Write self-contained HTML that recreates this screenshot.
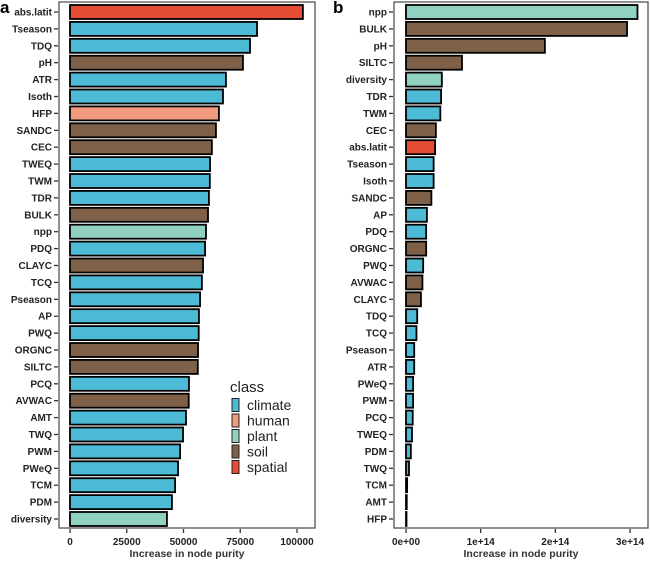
<!DOCTYPE html>
<html><head><meta charset="utf-8"><style>
body{margin:0;background:#fff;}
svg{display:block;font-family:"Liberation Sans",Arial,sans-serif;}
</style></head><body>
<svg id="c" width="650" height="564"></svg>
<script>
const catsA=["abs.latit","Tseason","TDQ","pH","ATR","Isoth","HFP","SANDC","CEC","TWEQ","TWM","TDR","BULK","npp","PDQ","CLAYC","TCQ","Pseason","AP","PWQ","ORGNC","SILTC","PCQ","AVWAC","AMT","TWQ","PWM","PWeQ","TCM","PDM","diversity"];
const valsA=[102600,82400,79300,76200,68700,67400,65600,64300,62500,61700,61600,61200,60800,59900,59500,58600,58100,57300,56800,56700,56400,56300,52400,52300,51100,49800,48500,47600,46300,44900,42700];
const classA=["spatial","climate","climate","soil","climate","climate","human","soil","soil","climate","climate","climate","soil","plant","climate","soil","climate","climate","climate","climate","soil","soil","climate","soil","climate","climate","climate","climate","climate","climate","plant"];
const ticksA=[0,25000,50000,75000,100000];
const catsB=["npp","BULK","pH","SILTC","diversity","TDR","TWM","CEC","abs.latit","Tseason","Isoth","SANDC","AP","PDQ","ORGNC","PWQ","AVWAC","CLAYC","TDQ","TCQ","Pseason","ATR","PWeQ","PWM","PCQ","TWEQ","PDM","TWQ","TCM","AMT","HFP"];
const valsB=[3.1e14,2.96e14,1.86e14,0.75e14,0.48e14,0.47e14,0.46e14,0.40e14,0.39e14,0.37e14,0.37e14,0.34e14,0.28e14,0.27e14,0.27e14,0.23e14,0.22e14,0.2e14,0.15e14,0.14e14,0.11e14,0.11e14,0.095e14,0.095e14,0.09e14,0.08e14,0.065e14,0.04e14,0.015e14,0.01e14,0.003e14];
const classB=["plant","soil","soil","soil","plant","climate","climate","soil","spatial","climate","climate","soil","climate","climate","soil","climate","soil","soil","climate","climate","climate","climate","climate","climate","climate","climate","climate","climate","climate","climate","human"];
const ticksB=[0,1e14,2e14,3e14];
const tickLabB=["0e+00","1e+14","2e+14","3e+14"];
const legendClasses=["climate","human","plant","soil","spatial"];
const colors={climate:"#4DBBD5",human:"#F39B7F",plant:"#91D1C2",soil:"#7E6148",spatial:"#E64B35"};
const svg=document.getElementById('c');
const NS="http://www.w3.org/2000/svg";
function mk(tag,attrs,parent){const e=document.createElementNS(NS,tag);for(const k in attrs)e.setAttribute(k,attrs[k]);(parent||svg).appendChild(e);return e;}
function panel(id,cats,vals,cls,ticks,tlabs,box,x0,x1,v1,letter,lx){
  const g=mk('g',{});
  
  
  const xs=v=>x0+(v/v1)*(x1-x0);
  const ys=i=>12+i*16.9;
  const fr=mk('rect',{x:box[0],y:box[1],width:box[2]-box[0],height:box[3]-box[1],fill:'none',stroke:'#555','stroke-width':1.3},g);
  
  
  cats.forEach((c,i)=>{
    const y=ys(i);
    const r=mk('rect',{x:xs(0),y:y-7,width:Math.max(xs(vals[i])-xs(0),0.5),height:14,fill:colors[cls[i]],stroke:'#000','stroke-width':1.8},g);
    
    
    mk('line',{x1:box[0]-5,x2:box[0]-1,y1:y,y2:y,stroke:'#333','stroke-width':1.3},g);
    const t=mk('text',{x:box[0]-7,y:y+3.5,'text-anchor':'end','font-size':10,'font-weight':'bold',fill:'#222'},g);
    t.textContent=c;
    
    
  });
  ticks.forEach((v,i)=>{
    const x=xs(v);
    mk('line',{x1:x,x2:x,y1:box[3]+1,y2:box[3]+5,stroke:'#333','stroke-width':1.3},g);
    const t=mk('text',{x:x,y:box[3]+17,'text-anchor':'middle','font-size':10,'font-weight':'bold',fill:'#222'},g);
    t.textContent=tlabs[i];
    
    
  });
  const tt=mk('text',{x:(box[0]+box[2])/2,y:557,'text-anchor':'middle','font-size':10.5,'font-weight':'bold',fill:'#333'},g);
  tt.textContent='Increase in node purity';
  
  
  const L=mk('text',{x:lx,y:13,'font-size':17,'font-weight':'bold',fill:'#000'},g);
  L.textContent=letter;
  
  
}
panel('a',catsA,valsA,classA,ticksA,ticksA.map(String),[59,2,315,528],70,297,100000,'a',0);
panel('b',catsB,valsB,classB,ticksB,tickLabB,[394,2,648,528],406,630,3e14,'b',333);
const lg=mk('g',{});


const lt=mk('text',{x:230,y:392,'font-size':15,fill:'#222'},lg);
lt.textContent='class';


legendClasses.forEach((c,i)=>{
  const y=405+i*15.5;
  const r=mk('rect',{x:232,y:y-6.5,width:7,height:13,fill:colors[c],stroke:'#222','stroke-width':1},lg);
  
  
  const t=mk('text',{x:247,y:y+5,'font-size':14,fill:'#222'},lg);
  t.textContent=c;
  
  
});
</script>
</body></html>
